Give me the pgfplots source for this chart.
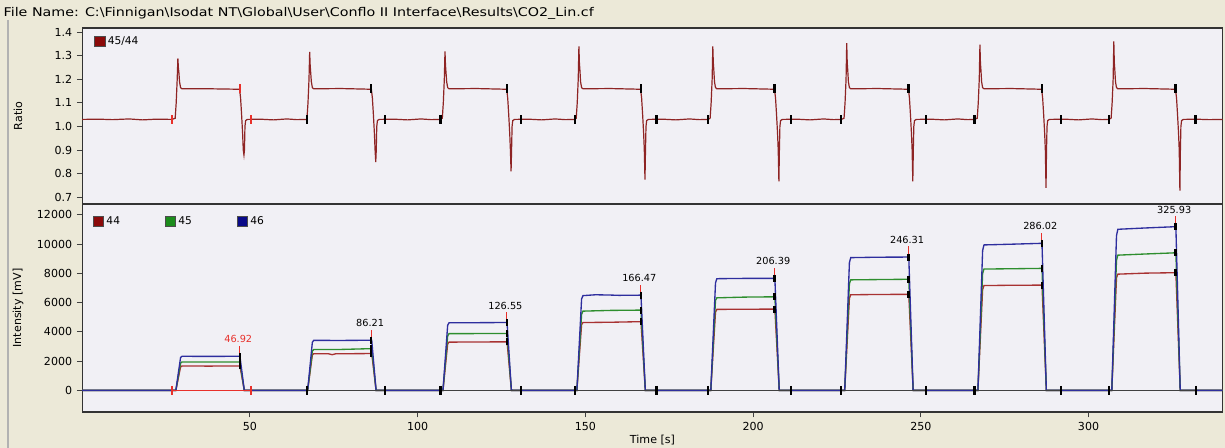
\documentclass[border=0pt]{standalone}
\usepackage{pgfplots}
\pgfplotsset{compat=1.18}
\usepackage{fontspec}
\setmainfont{DejaVu Sans}
\definecolor{bgbeige}{HTML}{ECE9D8}
\definecolor{plotbg}{HTML}{F1F0F5}
\definecolor{ratioc}{HTML}{8E2424}
\definecolor{c44}{HTML}{A83232}
\definecolor{c45}{HTML}{2E8E2E}
\definecolor{c46}{HTML}{2E2E9E}
\definecolor{sq44}{HTML}{8B0A0A}
\definecolor{sq45}{HTML}{1C8C1C}
\definecolor{sq46}{HTML}{0A0A88}
\definecolor{selred}{HTML}{E8302A}
\pgfplotsset{
 panel/.style={
  scale only axis, width=855.4pt, xmin=0, xmax=340,
  axis background/.style={fill=plotbg},
  axis line style={draw=black!80, line width=0.9pt},
  tick style={draw=black!75, line width=0.8pt},
  tick align=outside, major tick length=4pt,
  ytick pos=left, xtick pos=bottom,
  tick label style={font=\fontsize{8.3}{10}\selectfont},
  /pgf/number format/assume math mode=true,
  /pgf/number format/1000 sep={},
  scaled ticks=false,
  every axis y label/.style={at={(rel axis cs:0,0.5)}, xshift=-48.15pt, rotate=90, anchor=center, font=\fontsize{8.3}{10}\selectfont},
  legend cell align=left,
 },
 mk/.style={only marks, mark=|, mark size=3.3pt, line width=1.6pt, forget plot},
}
\begin{document}
\begin{tikzpicture}
\fill[bgbeige] (0pt,0pt) rectangle (918.75pt,-336pt);
\useasboundingbox (0pt,0pt) rectangle (918.75pt,-336pt);
\draw[black!30, line width=0.8pt] (6pt,-15pt) -- (6pt,-336pt);
\node[anchor=base west, inner sep=0pt, font=\fontsize{9}{10}\selectfont] at (2.5pt,-12.5pt) {\scalebox{1.19}[1]{File Name: C:\textbackslash Finnigan\textbackslash Isodat NT\textbackslash Global\textbackslash User\textbackslash Conflo II Interface\textbackslash Results\textbackslash CO2\_Lin.cf}};

\begin{axis}[panel,
  at={(61.65pt,-21pt)}, anchor=north west, height=132pt,
  ymin=0.671, ymax=1.418,
  xtick=\empty,
  ytick={0.7,0.8,0.9,1.0,1.1,1.2,1.3,1.4},
  yticklabel style={/pgf/number format/.cd, fixed, fixed zerofill, precision=1},
  ylabel={Ratio},
  legend style={at={(0,1)}, anchor=north west, xshift=6pt, yshift=-2pt, draw=none, fill=none, font=\fontsize{8}{9}\selectfont},
]
\addplot[ratioc, line width=0.9pt,
  legend image code/.code={\draw[draw=black!70, fill=sq44, line width=0.4pt] (0pt,-3.8pt) rectangle (7.6pt,3.8pt);}]
 coordinates {
(0,1.030) (5,1.031) (9,1.029) (14,1.032) (18,1.028) (22,1.031) (26.8,1.030)
(27.72,1.035) (28.02,1.10) (28.32,1.20) (28.52,1.289) (28.67,1.25) (28.82,1.23) (29.02,1.19) (29.32,1.165) (29.72,1.160) (37.92,1.160) (46.92,1.158) (47.22,1.12) (47.52,1.05) (47.82,0.97) (48.02,0.90) (48.22,0.879) (48.37,0.90) (48.52,1.00) (48.72,1.025) (49.22,1.030)
(53,1.031) (57,1.028) (61,1.032) (64,1.029) (66.9,1.030)
(67.01,1.035) (67.31,1.10) (67.61,1.20) (67.81,1.317) (67.96,1.26) (68.11,1.23) (68.31,1.19) (68.61,1.165) (69.01,1.160) (77.21,1.161) (86.21,1.158) (86.51,1.12) (86.81,1.05) (87.11,0.97) (87.31,0.90) (87.51,0.849) (87.66,0.90) (87.81,1.00) (88.01,1.025) (88.51,1.030)
(93,1.031) (97,1.028) (101,1.032) (104,1.029) (106.8,1.030)
(107.35,1.035) (107.65,1.10) (107.95,1.20) (108.15,1.319) (108.30,1.26) (108.45,1.23) (108.65,1.19) (108.95,1.165) (109.35,1.160) (117.55,1.161) (126.55,1.158) (126.85,1.12) (127.15,1.05) (127.45,0.97) (127.65,0.90) (127.85,0.810) (128.00,0.90) (128.15,1.00) (128.35,1.025) (128.85,1.030)
(133,1.031) (137,1.028) (141,1.032) (144,1.029) (146.8,1.030)
(147.27,1.035) (147.57,1.10) (147.87,1.20) (148.07,1.340) (148.22,1.27) (148.37,1.24) (148.57,1.19) (148.87,1.165) (149.27,1.160) (157.47,1.161) (166.47,1.158) (166.77,1.12) (167.07,1.05) (167.37,0.97) (167.57,0.90) (167.77,0.774) (167.92,0.90) (168.07,1.00) (168.27,1.025) (168.77,1.030)
(173,1.031) (177,1.028) (181,1.032) (184,1.029) (186.6,1.030)
(187.19,1.035) (187.49,1.10) (187.79,1.20) (187.99,1.340) (188.14,1.27) (188.29,1.24) (188.49,1.19) (188.79,1.165) (189.19,1.160) (197.39,1.161) (206.39,1.158) (206.69,1.12) (206.99,1.05) (207.29,0.97) (207.49,0.90) (207.69,0.767) (207.84,0.90) (207.99,1.00) (208.19,1.025) (208.69,1.030)
(213,1.031) (217,1.028) (221,1.032) (224,1.029) (226.3,1.030)
(227.11,1.035) (227.41,1.10) (227.71,1.20) (227.91,1.354) (228.06,1.27) (228.21,1.24) (228.41,1.19) (228.71,1.165) (229.11,1.160) (237.31,1.161) (246.31,1.158) (246.61,1.12) (246.91,1.05) (247.21,0.97) (247.41,0.90) (247.61,0.767) (247.76,0.90) (247.91,1.00) (248.11,1.025) (248.61,1.030)
(253,1.031) (257,1.028) (261,1.032) (264,1.029) (266.0,1.030)
(266.82,1.035) (267.12,1.10) (267.42,1.20) (267.62,1.347) (267.77,1.27) (267.92,1.24) (268.12,1.19) (268.42,1.165) (268.82,1.160) (277.02,1.161) (286.02,1.158) (286.32,1.12) (286.62,1.05) (286.92,0.97) (287.12,0.90) (287.32,0.739) (287.47,0.90) (287.62,1.00) (287.82,1.025) (288.32,1.030)
(293,1.031) (297,1.028) (301,1.032) (304,1.029) (306.0,1.030)
(306.73,1.035) (307.03,1.10) (307.33,1.20) (307.53,1.361) (307.68,1.27) (307.83,1.24) (308.03,1.19) (308.33,1.165) (308.73,1.160) (316.93,1.161) (325.93,1.158) (326.23,1.12) (326.53,1.05) (326.83,0.97) (327.03,0.90) (327.23,0.728) (327.38,0.90) (327.53,1.00) (327.73,1.025) (328.23,1.030)
(332,1.031) (336,1.029) (340,1.030)
};
\addlegendentry{45/44}
\addplot[mk, black] coordinates {
(66.9,1.03) (86.21,1.16) (90.2,1.03)
(106.8,1.03) (126.55,1.16) (130.7,1.03)
(146.8,1.03) (166.47,1.16) (171.2,1.03)
(186.6,1.03) (206.39,1.16) (211.4,1.03)
(226.3,1.03) (246.31,1.16) (251.6,1.03)
(266.0,1.03) (286.02,1.16) (291.9,1.03)
(306.0,1.03) (325.93,1.16) (331.9,1.03)
};
\addplot[mk, selred] coordinates {(26.8,1.03) (46.92,1.16) (50.2,1.03)};
\end{axis}

\begin{axis}[panel,
  at={(61.65pt,-153pt)}, anchor=north west, height=156pt,
  ymin=-1480, ymax=12750,
  ytick={0,2000,4000,6000,8000,10000,12000},
  xtick={50,100,150,200,250,300},
  ylabel={Intensity [mV]},
  xlabel={Time [s]},
  every axis x label/.style={at={(rel axis cs:0.5,0)}, yshift=-21pt, anchor=center, font=\fontsize{8.3}{10}\selectfont},
  legend columns=3,
  legend style={at={(0,1)}, anchor=north west, xshift=5pt, yshift=-5pt, draw=none, fill=none, font=\fontsize{8}{9}\selectfont,
    /tikz/every even column/.append style={column sep=31.8pt}},
]
\addplot[c44, line width=1pt,
  legend image code/.code={\draw[draw=black!70, fill=sq44, line width=0.4pt] (0pt,-3.8pt) rectangle (7.6pt,3.8pt);}]
 coordinates {
(0,0)
(27.92,0) (29.32,1600) (29.72,1666) (37.92,1660) (46.92,1670) (47.02,1670) (48.32,0)
(67.21,0) (68.61,2420) (69.01,2510) (73.5,2500) (74.5,2440) (75.5,2500) (86.21,2520) (86.31,2520) (87.61,0)
(107.55,0) (108.95,3180) (109.35,3300) (117.55,3310) (126.55,3320) (126.65,3320) (127.95,0)
(147.47,0) (148.87,4500) (149.27,4640) (157.47,4660) (166.47,4700) (166.57,4700) (167.87,0)
(187.39,0) (188.79,5350) (189.19,5540) (197.39,5550) (206.39,5560) (206.49,5560) (207.79,0)
(227.31,0) (228.71,6300) (229.11,6540) (237.31,6560) (246.31,6570) (246.41,6570) (247.71,0)
(267.02,0) (268.42,6900) (268.82,7170) (277.02,7190) (286.02,7200) (286.12,7200) (287.42,0)
(306.93,0) (308.33,7700) (308.73,7950) (316.93,8020) (325.93,8050) (326.03,8050) (327.33,0)
(340,0)
};
\addlegendentry{44}
\addplot[c45, line width=1pt,
  legend image code/.code={\draw[draw=black!70, fill=sq45, line width=0.4pt] (0pt,-3.8pt) rectangle (7.6pt,3.8pt);}]
 coordinates {
(0,0)
(27.92,0) (29.32,1860) (29.72,1940) (37.92,1935) (46.92,1945) (47.02,1945) (48.32,0)
(67.21,0) (68.61,2690) (69.01,2790) (77.21,2800) (85.5,2850) (86.21,2850) (86.31,2850) (87.61,0)
(107.55,0) (108.95,3730) (109.35,3880) (117.55,3885) (126.55,3890) (126.65,3890) (127.95,0)
(147.47,0) (148.87,5200) (149.27,5420) (157.47,5470) (166.47,5490) (166.57,5490) (167.87,0)
(187.39,0) (188.79,6150) (189.19,6330) (197.39,6380) (206.39,6400) (206.49,6400) (207.79,0)
(227.31,0) (228.71,7300) (229.11,7560) (237.31,7580) (246.31,7600) (246.41,7600) (247.71,0)
(267.02,0) (268.42,8000) (268.82,8300) (277.02,8320) (286.02,8345) (286.12,8345) (287.42,0)
(306.93,0) (308.33,8900) (308.73,9250) (316.93,9330) (325.93,9410) (326.03,9410) (327.33,0)
(340,0)
};
\addlegendentry{45}
\addplot[c46, line width=1pt,
  legend image code/.code={\draw[draw=black!70, fill=sq46, line width=0.4pt] (0pt,-3.8pt) rectangle (7.6pt,3.8pt);}]
 coordinates {
(0,0)
(27.92,0) (29.32,2240) (29.72,2330) (37.92,2325) (46.92,2331) (47.02,2331) (48.32,0)
(67.21,0) (68.61,3290) (69.01,3420) (77.21,3415) (86.21,3429) (86.31,3429) (87.61,0)
(107.55,0) (108.95,4460) (109.35,4620) (117.55,4630) (126.55,4642) (126.65,4642) (127.95,0)
(147.47,0) (148.87,6250) (149.27,6480) (153,6540) (157.47,6520) (160,6500) (166.47,6514) (166.57,6514) (167.87,0)
(187.39,0) (188.79,7350) (189.19,7640) (197.39,7660) (206.39,7659) (206.49,7659) (207.79,0)
(227.31,0) (228.71,8740) (229.11,9080) (237.31,9110) (246.31,9120) (246.41,9120) (247.71,0)
(267.02,0) (268.42,9560) (268.82,9950) (277.02,10000) (286.02,10059) (286.12,10059) (287.42,0)
(306.93,0) (308.33,10580) (308.73,11020) (316.93,11110) (325.93,11198) (326.03,11198) (327.33,0)
(340,0)
};
\addlegendentry{46}
% peak background lines
\addplot[black!75, line width=1pt, unbounded coords=jump, forget plot] coordinates {
(66.9,0) (90.2,0) (95,nan) (106.8,0) (130.7,0) (135,nan) (146.8,0) (171.2,0) (175,nan)
(186.6,0) (211.4,0) (215,nan) (226.3,0) (251.6,0) (255,nan) (266.0,0) (291.9,0) (295,nan)
(306.0,0) (331.9,0)
};
\addplot[selred, line width=1pt, forget plot] coordinates {(26.8,0) (50.2,0)};
% apex ticks
\addplot[selred, line width=0.9pt, unbounded coords=jump, forget plot] coordinates {
(46.92,2331) (46.92,3060) (50,nan) (86.21,3429) (86.21,4160) (90,nan)
(126.55,4642) (126.55,5370) (130,nan) (166.47,6514) (166.47,7240) (170,nan)
(206.39,7659) (206.39,8390) (210,nan) (246.31,9120) (246.31,9850) (250,nan)
(286.02,10059) (286.02,10790) (290,nan) (325.93,11198) (325.93,11930)
};
% markers
\addplot[mk, black] coordinates {
(66.9,0) (90.2,0) (106.8,0) (130.7,0) (146.8,0) (171.2,0) (186.6,0) (211.4,0)
(226.3,0) (251.6,0) (266.0,0) (291.9,0) (306.0,0) (331.9,0)
};
\addplot[mk, selred] coordinates {(26.8,0) (50.2,0)};
\addplot[mk, black, mark size=2.6pt] coordinates {
(46.92,1670) (46.92,1945) (46.92,2331)
(86.21,2520) (86.21,2850) (86.21,3429)
(126.55,3320) (126.55,3890) (126.55,4642)
(166.47,4700) (166.47,5490) (166.47,6514)
(206.39,5560) (206.39,6400) (206.39,7659)
(246.31,6570) (246.31,7600) (246.31,9120)
(286.02,7200) (286.02,8345) (286.02,10059)
(325.93,8050) (325.93,9410) (325.93,11198)
};
% peak labels
\addplot[draw=none, mark=none, forget plot, nodes near coords, point meta=explicit symbolic,
  every node near coord/.append style={anchor=south, inner sep=0.5pt, font=\fontsize{7.3}{8}\selectfont, text=black}]
 table[meta=lab] {
x y lab
85.81 4279 86.21
126.15 5492 126.55
166.07 7364 166.47
205.99 8509 206.39
245.91 9970 246.31
285.62 10909 286.02
325.53 12048 325.93
};
\addplot[draw=none, mark=none, forget plot, nodes near coords, point meta=explicit symbolic,
  every node near coord/.append style={anchor=south, inner sep=0.5pt, font=\fontsize{7.3}{8}\selectfont, text=selred}]
 table[meta=lab] {
x y lab
46.52 3181 46.92
};
\end{axis}
\end{tikzpicture}
\end{document}
